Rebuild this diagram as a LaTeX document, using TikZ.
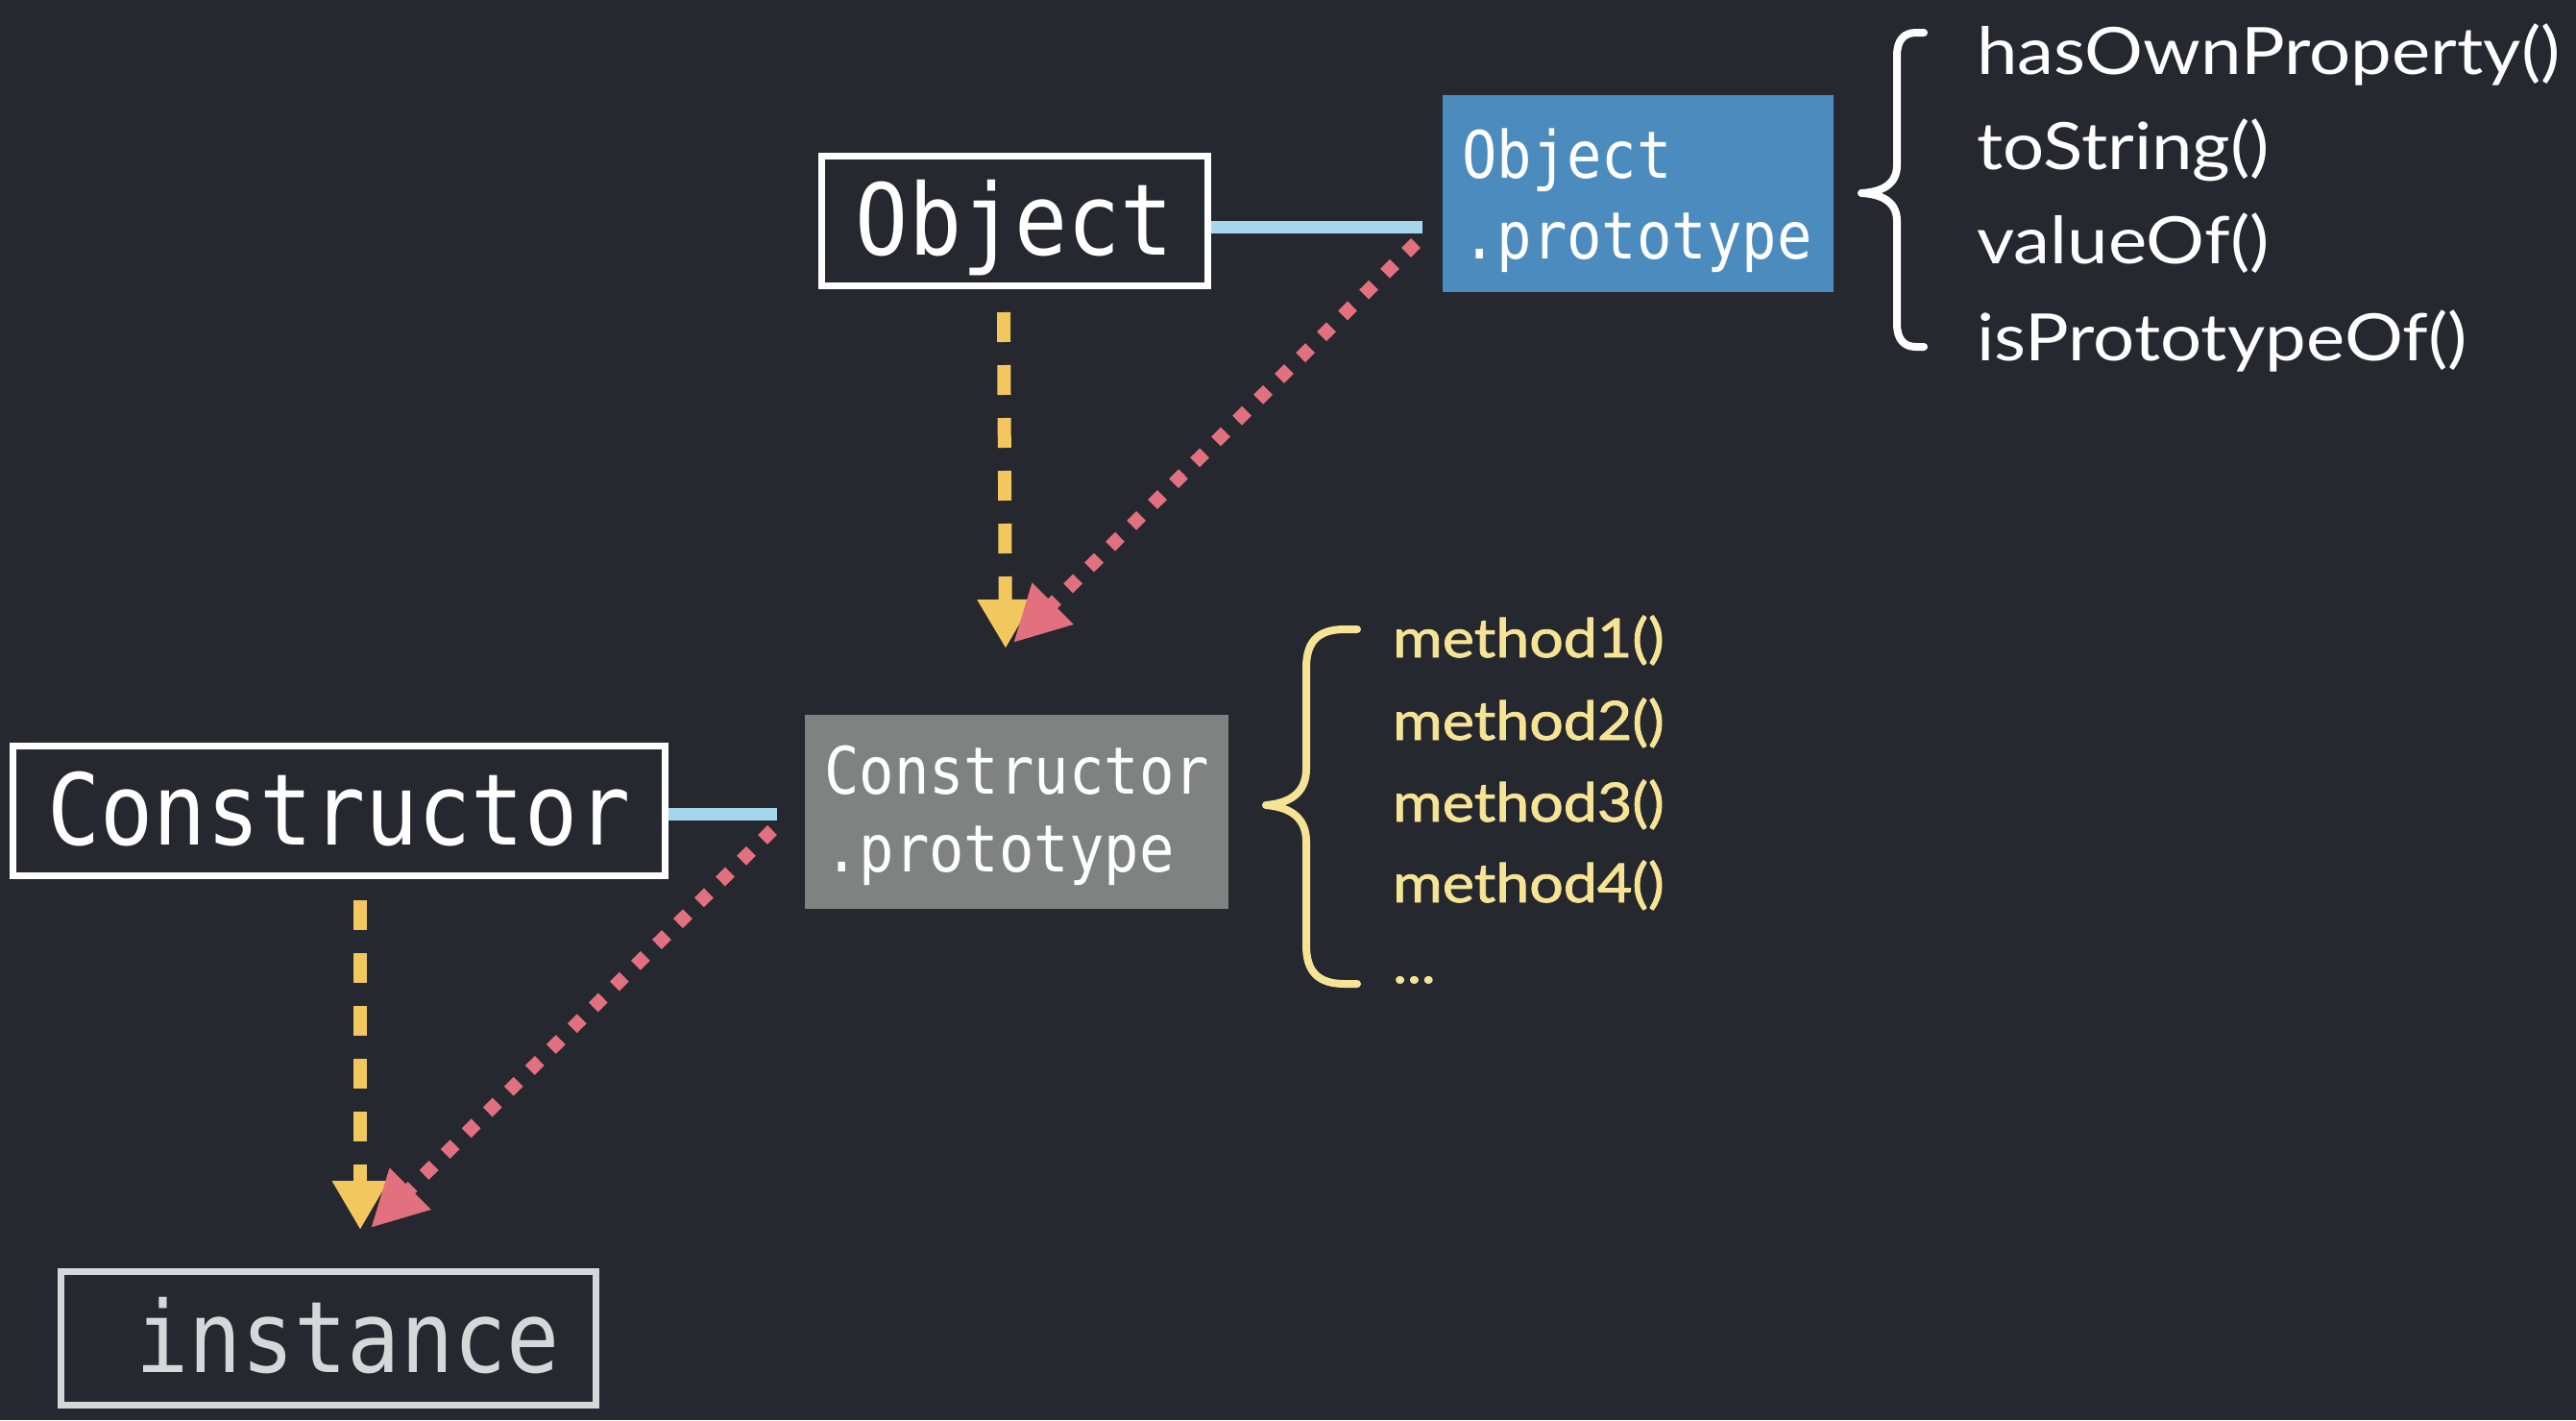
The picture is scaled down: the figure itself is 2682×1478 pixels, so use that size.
\documentclass[tikz,border=0pt]{standalone}
\usepackage{fontspec}
\setmainfont{Lato}
\newfontfamily\monof{DejaVu Sans Mono}[FakeStretch=0.89]
\newfontfamily\wlat{Lato}[FakeStretch=1.12]
\newfontfamily\ylat{Lato}[FakeStretch=1.12, FakeBold=1.6]
\usetikzlibrary{arrows.meta}
\definecolor{bg}{HTML}{25282F}
\definecolor{boxblue}{HTML}{4B8BBE}
\definecolor{boxgray}{HTML}{7F8280}
\definecolor{linkblue}{HTML}{A6D6EE}
\definecolor{arrowyellow}{HTML}{F2C75E}
\definecolor{dotred}{HTML}{E2707E}
\definecolor{textyellow}{HTML}{F6E394}
\definecolor{instgray}{HTML}{D6D7D9}
\newcommand\bigmono{\monof\fontsize{103}{110}\selectfont}
\newcommand\smallmono{\monof\fontsize{68}{74}\selectfont}
\newcommand\wlistfont{\wlat\fontsize{68}{75}\selectfont}
\newcommand\ylistfont{\ylat\fontsize{56}{62}\selectfont}
\begin{document}
\begin{tikzpicture}[x=1pt,y=-1pt,
  wbox/.style={draw=white, line width=7pt, fill=bg, inner sep=0pt, text=white, font=\bigmono, text height=70pt, text depth=0pt},
  ptext/.style={anchor=base west, inner sep=0pt, text=white, font=\smallmono},
  link/.style={draw=linkblue, line width=13pt},
  yarrow/.style={draw=arrowyellow, line width=14pt, dash pattern=on 31pt off 24pt, -{Triangle[length=51pt,width=55pt]}},
  rarrow/.style={draw=dotred, line width=14pt, dash pattern=on 14pt off 17pt, -{Triangle[length=58pt,width=57pt]}},
  wlist/.style={anchor=base west, inner sep=0pt, text=white, font=\wlistfont},
  ylist/.style={anchor=base west, inner sep=0pt, text=textyellow, font=\ylistfont},
  brace/.style={line width=8pt, line cap=round, line join=round}
  ]
\fill[bg] (0,0) rectangle (2682,1478);
\useasboundingbox (0,0) rectangle (2682,1478);

% boxes
\node[wbox, minimum width=402pt, minimum height=135pt] (obj) at (1056.5,230) {Object};
\node[fill=boxblue, minimum width=407pt, minimum height=205pt, inner sep=0pt] (objp) at (1705.5,201.5) {};
\node[ptext] (objpt1) at (1522,185) {Object};
\node[ptext] (objpt2) at (1522,269) {.prototype};

\node[wbox, minimum width=679pt, minimum height=135pt] (con) at (353,844) {Constructor};
\node[fill=boxgray, minimum width=441pt, minimum height=202pt, inner sep=0pt] (conp) at (1058.5,845) {};
\node[ptext] (conpt1) at (858,826) {Constructor};
\node[ptext] (conpt2) at (858,907) {.prototype};

\node[wbox, draw=instgray, text=instgray, minimum width=557pt, minimum height=139pt] (inst) at (342,1393) {\hspace*{40pt}instance};

% links
\coordinate (l1e) at (1481,236);
\coordinate (l2e) at (809,847);
\draw[link] (obj.east |- l1e) -- (l1e);
\draw[link] (con.east |- l2e) -- (l2e);

% arrows
\coordinate (ya1s) at (1045,325);
\coordinate (ya1e) at (1047,675);
\coordinate (ya2s) at (375,937);
\coordinate (ya2e) at (375,1280);
\draw[yarrow] (ya1s) -- (ya1e);
\draw[yarrow] (ya2s) -- (ya2e);
\coordinate (ra1s) at (1474,253);
\coordinate (ra1e) at (1055,669);
\coordinate (ra2s) at (804,864);
\coordinate (ra2e) at (386,1278);
\draw[rarrow] (ra1s) -- (ra1e);
\draw[rarrow] (ra2s) -- (ra2e);

% white brace and list
\draw[white, brace] (2003,34) -- (1995,34) .. controls (1982,34) and (1975,42) .. (1975,58) -- (1975,172) .. controls (1975,192) and (1959,200) .. (1938,201) .. controls (1959,202) and (1975,210) .. (1975,230) -- (1975,337) .. controls (1975,353) and (1982,361) .. (1995,361) -- (2003,361);
\node[wlist] (m1) at (2058,77) {hasOwnProperty()};
\node[wlist] (m2) at (2058,176) {toString()};
\node[wlist] (m3) at (2058,274) {valueOf()};
\node[wlist] (m4) at (2058,375) {isPrototypeOf()};

% yellow brace and list
\draw[textyellow, brace] (1413,655) -- (1400,655) .. controls (1372,655) and (1360,668) .. (1360,695) -- (1360,800) .. controls (1360,826) and (1342,836) .. (1318,838) .. controls (1342,840) and (1360,850) .. (1360,876) -- (1360,984) .. controls (1360,1011) and (1372,1024) .. (1400,1024) -- (1413,1024);
\node[ylist] (y1) at (1450,684) {method1()};
\node[ylist] (y2) at (1450,770) {method2()};
\node[ylist] (y3) at (1450,855) {method3()};
\node[ylist] (y4) at (1450,939) {method4()};
\node[ylist] (y5) at (1450,1023) {...};
\end{tikzpicture}
\end{document}
